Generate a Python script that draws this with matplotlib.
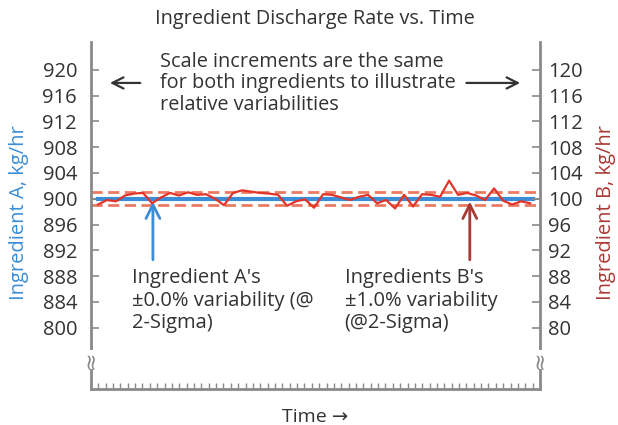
import numpy as np
import matplotlib
matplotlib.use('Agg')
import matplotlib.pyplot as plt

plt.rcParams['font.family'] = ['Open Sans', 'DejaVu Sans']

# data (y axis in Ingredient A units; B = A - 800)
a_level = 900.0
a_band = 0.0
b_values = [99.1, 99.8, 99.6, 100.5, 100.8, 100.9, 99.3, 100.2, 100.9, 100.5,
            101.0, 100.6, 100.7, 100.0, 99.0, 100.9, 101.3, 101.1, 100.9, 100.8,
            100.6, 98.9, 99.6, 99.9, 98.6, 100.7, 100.6, 100.2, 99.8, 100.3,
            100.6, 99.3, 99.8, 98.5, 100.6, 98.8, 100.7, 100.6, 100.3, 102.8,
            100.6, 100.9, 100.5, 99.8, 101.6, 99.7, 99.1, 99.6, 99.3]
b_offset = 800
b_band = 1.0
left_ticks = [880, 884, 888, 892, 896, 900, 904, 908, 912, 916, 920]
left_labels = ['800', '884', '888', '892', '896', '900', '904', '908', '912', '916', '920']
right_labels = ['80', '84', '88', '92', '96', '100', '104', '108', '112', '116', '120']

GRAY = '#8a8a8a'
TEXT = '#333333'
BLUE = '#3a8dd6'
RED = '#e3342a'
SALMON = '#ea7a62'
DARKRED = '#a83a35'

fig = plt.figure(figsize=(6.18, 4.25), dpi=100)
ax = fig.add_axes([0.1472, 0.0847, 0.7266, 0.8165])

t = np.arange(len(b_values))
ax.set_xlim(-0.78, 49.1)
ax.set_ylim(870.5, 924.3)

# reference line, B's 2-sigma band, A and B traces
ax.axhline(a_level, color=GRAY, lw=1.5, zorder=1)
ax.axhline(a_level + b_band, color=SALMON, lw=2, ls=(0, (4, 2)), zorder=2)
ax.axhline(a_level - b_band, color=SALMON, lw=2, ls=(0, (4, 2)), zorder=2)
ax.plot([t[0], t[-1] + 0.3], [a_level, a_level], color=BLUE, lw=3, zorder=3)
ax.plot(t, np.array(b_values) + b_offset, color=RED, lw=1.6, zorder=4)

for side in ['left', 'right', 'bottom']:
    ax.spines[side].set_color(GRAY)
    ax.spines[side].set_linewidth(2)
ax.spines['top'].set_visible(False)

ax.set_yticks(left_ticks)
ax.set_yticklabels(left_labels)
ax.tick_params(axis='y', direction='in', length=6, width=1.2, color=GRAY,
               labelsize=14.5, labelcolor=TEXT, pad=10)
ax.set_xticks(np.linspace(-0.78, 49.1, 62))
ax.set_xticklabels([])
ax.tick_params(axis='x', direction='in', length=4, width=1, color=GRAY)

ax2 = ax.twinx()
ax2.set_ylim(ax.get_ylim())
ax2.set_yticks(left_ticks)
ax2.set_yticklabels(right_labels)
ax2.tick_params(axis='y', direction='in', length=6, width=1.2, color=GRAY,
                labelsize=14.5, labelcolor=TEXT, pad=6)
for side in ax2.spines:
    ax2.spines[side].set_visible(False)

# axis break marks
for xf in [0.0, 1.0]:
    ax.text(xf, 0.085, '≈', transform=ax.transAxes, rotation=90, ha='center',
            va='center', fontsize=16, color=GRAY, family='DejaVu Sans',
            bbox=dict(facecolor='white', edgecolor='none', pad=0.5), zorder=10,
            clip_on=False)

fig.text(0.51, 0.955, 'Ingredient Discharge Rate vs. Time', ha='center', va='center',
         fontsize=14.3, color=TEXT)
fig.text(0.03, 0.50, 'Ingredient A, kg/hr', rotation=90, ha='center', va='center',
         fontsize=14.5, color=BLUE)
fig.text(0.98, 0.50, 'Ingredient B, kg/hr', rotation=90, ha='center', va='center',
         fontsize=14.5, color=DARKRED)
ax.set_xlabel('Time →', fontsize=14, color=TEXT, labelpad=10)

ax.text(0.154, 0.972, 'Scale increments are the same\nfor both ingredients to illustrate\nrelative variabilities',
        transform=ax.transAxes, ha='left', va='top', fontsize=14.3, color=TEXT,
        linespacing=1.1)
ax.annotate('', xy=(0.036, 0.882), xytext=(0.116, 0.882), xycoords='axes fraction',
            arrowprops=dict(arrowstyle='->', color=TEXT, lw=1.6, mutation_scale=20))
ax.annotate('', xy=(0.962, 0.882), xytext=(0.83, 0.882), xycoords='axes fraction',
            arrowprops=dict(arrowstyle='->', color=TEXT, lw=1.6, mutation_scale=20))

ax.annotate('', xy=(6.1, a_level), xytext=(6.1, 890.1),
            arrowprops=dict(arrowstyle='->', color=BLUE, lw=2, mutation_scale=25))
ax.annotate('', xy=(41.3, a_level), xytext=(41.3, 890.1),
            arrowprops=dict(arrowstyle='->', color=DARKRED, lw=2, mutation_scale=25))

ax.text(3.8, 889.2, "Ingredient A's\n±0.0% variability (@\n2-Sigma)", ha='left', va='top',
        fontsize=14.5, color=TEXT, linespacing=1.15)
ax.text(27.4, 889.2, "Ingredients B's\n±1.0% variability\n(@2-Sigma)", ha='left', va='top',
        fontsize=14.5, color=TEXT, linespacing=1.15)

fig.savefig('out.png', dpi=100)
